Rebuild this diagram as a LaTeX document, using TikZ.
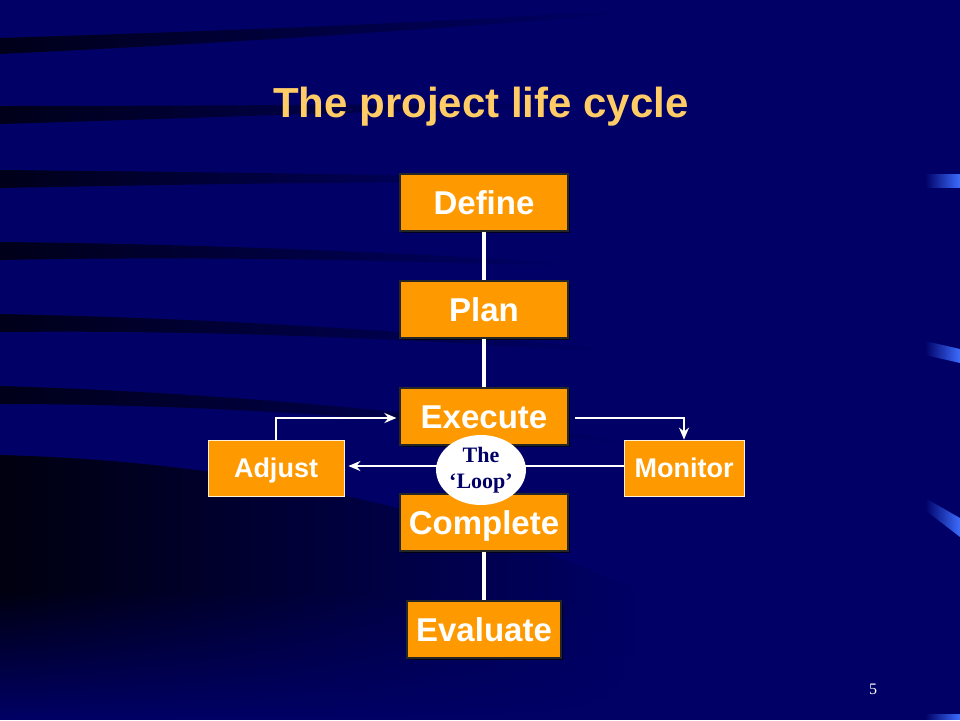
\documentclass[tikz,border=0pt]{standalone}
\usepackage{fontspec}
\setmainfont{Liberation Serif}
\setsansfont{Liberation Sans}
\usetikzlibrary{shapes.geometric,arrows.meta,fadings,shadows}
\definecolor{bgnavy}{RGB}{0,0,102}
\definecolor{boxorange}{RGB}{255,153,0}
\definecolor{titlegold}{RGB}{255,204,102}
\definecolor{tickblue}{RGB}{60,110,255}
\definecolor{loopnavy}{RGB}{0,0,102}
\tikzset{
  stagebox/.style={rectangle, fill=boxorange, draw=black!85, line width=1.2pt,
    text=white, font=\sffamily\bfseries\fontsize{33}{35}\selectfont,
    minimum width=168pt, minimum height=57pt, inner sep=0pt,
    text height=23.8pt, text depth=0pt,
    drop shadow={shadow xshift=1.5pt, shadow yshift=-1.5pt, fill=black, opacity=0.7}},
  sidebox/.style={rectangle, fill=boxorange, draw=white!85!boxorange, line width=0.8pt,
    text=white, font=\sffamily\bfseries\fontsize{27}{29}\selectfont,
    text height=19.5pt, text depth=0pt,
    minimum height=56pt, inner sep=0pt},
  link/.style={draw=white, line width=3.5pt},
  looparrow/.style={draw=white, line width=2.6pt, -{Stealth[length=12pt,width=10pt]}},
  streak/.style={fill=black, path fading=east, opacity=0.75},
}
\begin{document}
\begin{tikzpicture}[x=1pt,y=-1pt]
% background
\fill[bgnavy] (0,0) rectangle (960,720);
\useasboundingbox (0,0) rectangle (960,720);
% dark streaks on the left
\fill[streak] (0,38) .. controls (250,30) and (450,22) .. (620,10) -- (620,14) .. controls (450,28) and (250,42) .. (0,54) -- cycle;
\fill[streak] (0,106) .. controls (200,106) and (400,104) .. (560,104) -- (560,108) .. controls (400,110) and (200,118) .. (0,124) -- cycle;
\fill[streak] (0,170) .. controls (200,172) and (350,174) .. (520,178) -- (520,182) .. controls (350,182) and (200,184) .. (0,188) -- cycle;
\fill[streak] (0,242) .. controls (200,244) and (380,252) .. (560,262) -- (560,266) .. controls (380,260) and (200,256) .. (0,260) -- cycle;
\fill[streak] (0,314) .. controls (200,318) and (400,330) .. (600,348) -- (600,352) .. controls (400,338) and (200,330) .. (0,332) -- cycle;
\fill[streak] (0,386) .. controls (200,392) and (420,410) .. (620,440) -- (620,444) .. controls (420,418) and (200,404) .. (0,404) -- cycle;
% dark lower-left region
\fill[black, opacity=0.85, path fading=east] (0,455) .. controls (250,462) and (450,510) .. (640,590)
  -- (640,720) -- (0,720) -- cycle;
\fill[bgnavy, path fading=north] (0,590) rectangle (700,720);
% right-edge ticks
\fill[tickblue, path fading=west] (925,174) -- (960,174) -- (960,188) -- (925,188) -- cycle;
\fill[tickblue, path fading=west] (925,341) -- (960,349) -- (960,363) -- (925,355) -- cycle;
\fill[tickblue, path fading=west] (925,498) -- (960,518) -- (960,537) -- (925,510) -- cycle;
\fill[tickblue, path fading=west] (925,714) -- (960,714) -- (960,720) -- (925,720) -- cycle;
% title
\node (title) [text=titlegold, font=\sffamily\bfseries\fontsize{42}{44}\selectfont, anchor=base]
  at (481,117) {The project life cycle};
% stages
\node (define) [stagebox] at (484,202.5) {Define};
\node (plan) [stagebox] at (484,309.5) {Plan};
\node (execute) [stagebox] at (484,416.5) {Execute};
\node (complete) [stagebox] at (484,522.5) {Complete};
\node (evaluate) [stagebox, minimum width=154pt] at (484,629.5) {Evaluate};
\node (adjust) [sidebox, minimum width=136pt] at (276,468) {Adjust};
\node (monitor) [sidebox, minimum width=120pt] at (684,468) {Monitor};
% links
\draw[link] (define.south) -- (plan.north);
\draw[link] (plan.south) -- (execute.north);
\draw[link] (complete.south) -- (evaluate.north);
% loop arrows
\draw[looparrow] (adjust.north) |- ([xshift=-3pt,yshift=-1.5pt]execute.west);
\draw[looparrow] ([xshift=6pt,yshift=-1.5pt]execute.east) -| (monitor.north);
\draw[looparrow] ([yshift=2pt]monitor.west) -- ([xshift=4pt,yshift=2pt]adjust.east);
% the loop
\node (loop) [ellipse, fill=white, minimum width=88pt, minimum height=70pt, inner sep=0pt,
  align=center, text=loopnavy, font=\rmfamily\bfseries\fontsize{22}{26}\selectfont]
  at (481,470) {The\\‘Loop’};
% page number
\node (pagenum) [text=white, font=\rmfamily\fontsize{16}{18}\selectfont] at (873,689) {5};
\end{tikzpicture}
\end{document}
